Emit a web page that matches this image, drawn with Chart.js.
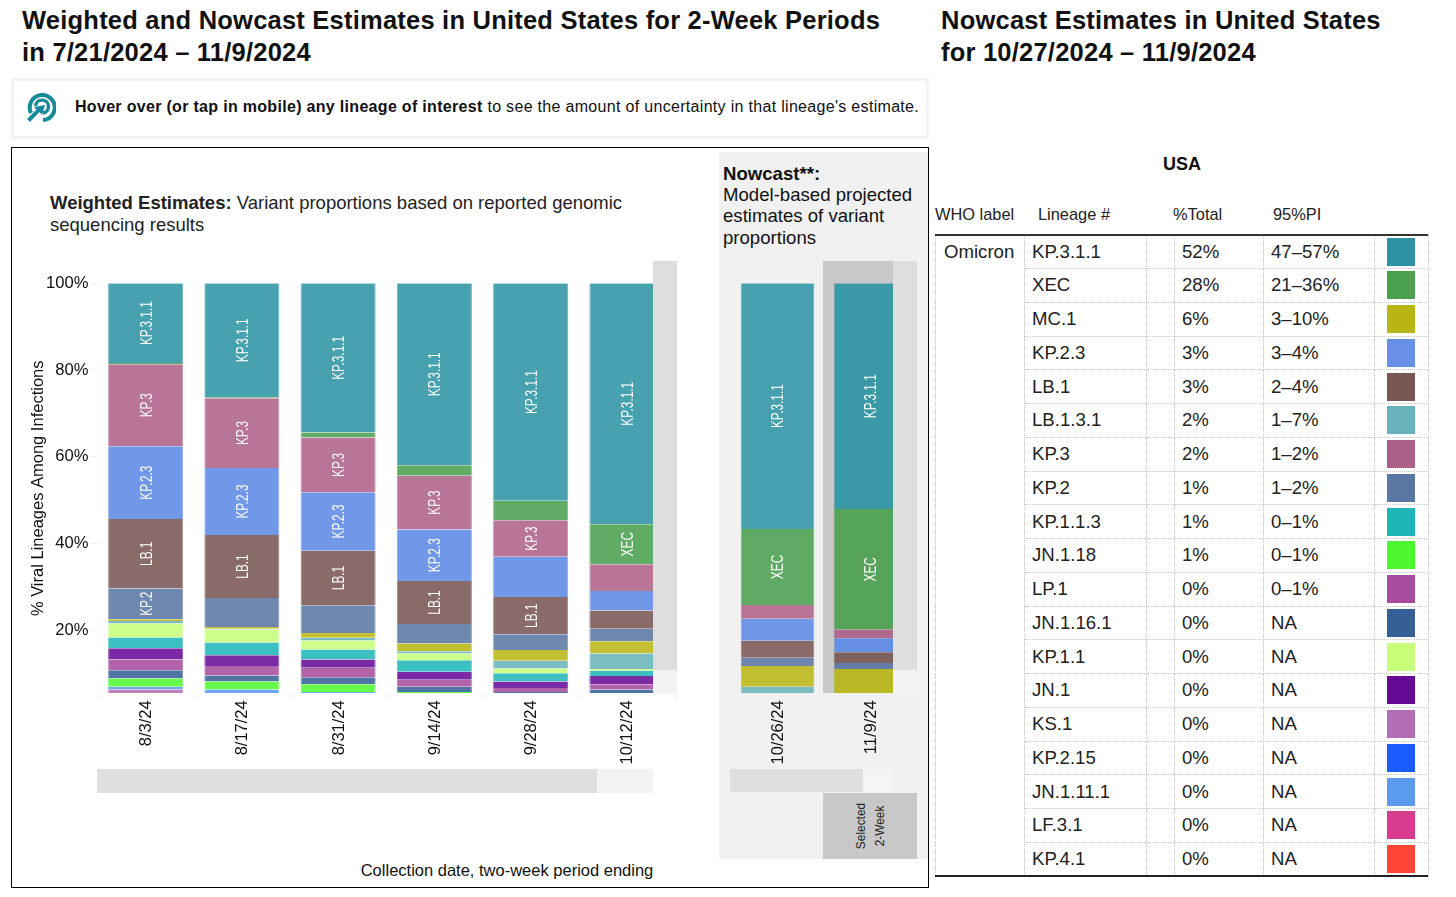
<!DOCTYPE html>
<html>
<head>
<meta charset="utf-8">
<title>Nowcast Estimates</title>
<script src="https://cdn.jsdelivr.net/npm/chart.js@4/dist/chart.umd.min.js"></script>
<style>
	html, body { margin: 0; padding: 0; background: #fff; }
	body { width: 1456px; height: 897px; position: relative; overflow: hidden; font-family: "Liberation Sans", Arial, sans-serif; color: #111; }
	.abs { position: absolute; }
	h1 { position: absolute; margin: 0; font-size: 25.5px; line-height: 32px; font-weight: bold; color: #111; white-space: nowrap; letter-spacing: 0.22px; }
	canvas { position: absolute; z-index: 1; }
	.over { z-index: 2; }
	#lineageTable { position: absolute; left: 935px; top: 234.3px; width: 493px; border-collapse: collapse; table-layout: fixed; font-size: 18.6px; color: #222; }
	#lineageTable td { height: 33.75px; padding: 0; border: 1px dotted #ccc; box-sizing: border-box; vertical-align: middle; }
	#lineageTable td.who { vertical-align: top; padding: 6px 0 0 8px; }
	#lineageTable td.name { padding-left: 7px; }
	#lineageTable td.total { padding-left: 7px; }
	#lineageTable td.pi { padding-left: 7px; }
	.swatch { width: 28px; height: 28px; margin-left: 12px; }
	.head { position: absolute; top: 205px; font-size: 16.4px; line-height: 18px; color: #222; }
</style>
</head>
<body>

<h1 style="left:22px; top:4px;">Weighted and Nowcast Estimates in United States for 2-Week Periods<br>in 7/21/2024 – 11/9/2024</h1>
<h1 style="left:941px; top:4px;">Nowcast Estimates in United States<br>for 10/27/2024 – 11/9/2024</h1>

<div class="abs" style="left:11px; top:78px; width:912px; height:55px; border:3px solid #f3f3f3;"></div>
<svg class="abs" style="left:26px; top:93px;" width="30" height="31" viewBox="0 0 30 31">
	<path d="M5 20 A12.5 12.5 0 1 1 17 27" fill="none" stroke="#178a99" stroke-width="4"/>
	<path d="M9.5 13 A6.5 6.5 0 1 1 17 20" fill="none" stroke="#178a99" stroke-width="3.4"/>
	<path d="M19 12 L16 22 L13.5 19 L4 29 L1 26 L10.5 16.5 L8 14 Z" fill="#178a99"/>
</svg>
<div class="abs" style="left:75px; top:98px; font-size:16px; line-height:18px; white-space:nowrap; letter-spacing:0.31px;"><b>Hover over (or tap in mobile) any lineage of interest</b> to see the amount of uncertainty in that lineage's estimate.</div>

<div class="abs" style="left:11px; top:147px; width:916px; height:739px; border:1.5px solid #000;"></div>
<div class="abs" style="left:719px; top:152px; width:208.5px; height:707px; background:#f1f1f1;"></div>
<div class="abs" style="left:823px; top:261px; width:70px; height:432px; background:#c8c8c8;"></div>

<div class="abs" style="left:50px; top:192px; font-size:18.5px; line-height:21.5px; color:#222; white-space:nowrap;"><b>Weighted Estimates:</b> Variant proportions based on reported genomic<br>sequencing results</div>
<div class="abs" style="left:723px; top:163px; font-size:18.6px; line-height:21.2px; color:#111; white-space:nowrap;"><b>Nowcast**:</b><br>Model-based projected<br>estimates of variant<br>proportions</div>

<canvas id="weightedChart" style="left:12px; top:255px;"></canvas>
<canvas id="nowcastChart" style="left:719px; top:255px;"></canvas>

<div class="abs over" style="left:653px; top:261px; width:24px; height:409px; background:#dedede;"></div>
<div class="abs over" style="left:653px; top:670px; width:24px; height:23.5px; background:#f3f3f3;"></div>
<div class="abs over" style="left:893px; top:261px; width:24px; height:409px; background:#dedede;"></div>
<div class="abs over" style="left:893px; top:670px; width:24px; height:23.5px; background:#f3f3f3;"></div>

<div class="abs" style="left:97px; top:769px; width:500px; height:24px; background:#dfdfdf;"></div>
<div class="abs" style="left:597px; top:769px; width:56px; height:24px; background:#f3f3f3;"></div>
<div class="abs" style="left:730px; top:769px; width:133px; height:23px; background:#dfdfdf;"></div>
<div class="abs" style="left:863px; top:769px; width:30px; height:23px; background:#f5f5f5;"></div>

<div class="abs" style="left:823px; top:793px; width:94px; height:66px; background:#c8c8c8;"></div>
<div class="abs" style="left:834px; top:808px; width:70px; height:36px; transform:rotate(-90deg) scaleX(0.88); text-align:center; font-size:13.5px; line-height:19px; color:#222;">Selected<br>2-Week</div>

<div class="abs" style="left:207px; top:861px; width:600px; text-align:center; font-size:16.5px; line-height:18px; color:#111;">Collection date, two-week period ending</div>

<div class="abs" style="left:1082px; top:154px; width:200px; text-align:center; font-size:18px; line-height:20px; font-weight:bold; color:#111;">USA</div>
<div class="head" style="left:935px;">WHO label</div>
<div class="head" style="left:1038px;">Lineage #</div>
<div class="head" style="left:1173px;">%Total</div>
<div class="head" style="left:1273px;">95%PI</div>
<table id="lineageTable"></table>
<div class="abs" style="left:935px; top:234px; width:493px; height:2px; background:#333; z-index:2;"></div>
<div class="abs" style="left:935px; top:875px; width:493px; height:2px; background:#222; z-index:2;"></div>

<script>
const weightedDates = ["8/3/24", "8/17/24", "8/31/24", "9/14/24", "9/28/24", "10/12/24"];
const nowcastDates = ["10/26/24", "11/9/24"];

// one value per column, the six weighted periods then the two nowcast periods
const kp311 = [18.4, 26.3, 34.4, 42.0, 50.2, 55.6, 56.7, 52.1];
const xec = [0.3, 0.2, 1.2, 2.4, 4.5, 9.2, 17.5, 27.8];
const kp3 = [18.9, 16.1, 12.6, 12.4, 8.4, 6.2, 3.2, 2.0];
const kp23 = [16.8, 15.5, 13.5, 11.9, 9.3, 4.5, 5.1, 3.2];
const lb1 = [16.0, 14.5, 12.6, 9.9, 8.6, 4.2, 3.9, 2.5];
const kp2 = [7.1, 6.7, 6.4, 4.5, 3.6, 2.9, 1.9, 1.4];
const mc1 = [0.4, 0.4, 1.1, 1.8, 2.5, 2.8, 4.8, 5.6];
const lb131 = [0.6, 0.2, 0.6, 0.5, 1.8, 3.6, 1.5, 0];
const kp11 = [3.2, 3.0, 2.1, 1.6, 1.1, 0.4, 0, 0];
const kp113 = [2.5, 2.9, 2.3, 2.6, 1.9, 1.2, 0, 0];
const jn1 = [2.6, 2.5, 1.9, 1.9, 1.5, 1.9, 0, 0];
const lp1 = [2.5, 2.2, 2.2, 1.6, 0.9, 1.2, 0, 0];
const jn1161 = [1.9, 1.4, 1.6, 1.2, 0.3, 0.9, 0, 0];
const jn118 = [1.9, 1.8, 1.8, 0.3, 0, 0, 0, 0];
const jn1111 = [0.6, 0.9, 0.3, 0, 0, 0, 0, 0];
const ks1 = [0.9, 0, 0, 0, 0, 0, 0, 0];
// the axis is cut at 5.4%, this part of each column is out of view
const belowAxis = [5.4, 5.4, 5.4, 5.4, 5.4, 5.4, 5.4, 5.4];
const yMin = 5.4;
const yTicks = [20, 40, 60, 80, 100];

const barSeries = [
	["KP.3.1.1", kp311, "45,147,163"],
	["XEC", xec, "74,160,78"],
	["KP.3", kp3, "173,97,136"],
	["KP.2.3", kp23, "92,136,230"],
	["LB.1", lb1, "119,86,84"],
	["KP.2", kp2, "90,118,163"],
	["MC.1", mc1, "185,181,20"],
	["LB.1.3.1", lb131, "104,179,187"],
	["KP.1.1", kp11, "200,255,122"],
	["KP.1.1.3", kp113, "31,181,184"],
	["JN.1", jn1, "102,10,150"],
	["LP.1", lp1, "167,76,157"],
	["JN.1.16.1", jn1161, "53,95,150"],
	["JN.1.18", jn118, "79,247,47"],
	["JN.1.11.1", jn1111, "91,155,238"],
	["KS.1", ks1, "179,110,182"],
];

// columns whose segment carries its name
const labelledColumns = {
	"KP.3.1.1": [0, 1, 2, 3, 4, 5, 6, 7],
	"XEC": [5, 6, 7],
	"KP.3": [0, 1, 2, 3, 4],
	"KP.2.3": [0, 1, 2, 3],
	"LB.1": [0, 1, 2, 3, 4],
	"KP.2": [0],
};

const tableNames = ["KP.3.1.1", "XEC", "MC.1", "KP.2.3", "LB.1", "LB.1.3.1", "KP.3", "KP.2", "KP.1.1.3", "JN.1.18", "LP.1", "JN.1.16.1", "KP.1.1", "JN.1", "KS.1", "KP.2.15", "JN.1.11.1", "LF.3.1", "KP.4.1"];
const tableTotals = ["52%", "28%", "6%", "3%", "3%", "2%", "2%", "1%", "1%", "1%", "0%", "0%", "0%", "0%", "0%", "0%", "0%", "0%", "0%"];
const tableIntervals = ["47–57%", "21–36%", "3–10%", "3–4%", "2–4%", "1–7%", "1–2%", "1–2%", "0–1%", "0–1%", "0–1%", "NA", "NA", "NA", "NA", "NA", "NA", "NA", "NA"];
const tableColors = ["#2d93a3", "#4aa04e", "#b9b514", "#6890e8", "#775654", "#68b3bb", "#ad6188", "#5a76a3", "#1fb5b8", "#4ff72f", "#a74c9d", "#355f96", "#c8ff7a", "#660a96", "#b36eb6", "#1a5cff", "#5b9bee", "#d83c91", "#ff4636"];

const fontFamily = '"Liberation Sans", Arial, sans-serif';

// white names turned along the bars, squeezed the way the picture has them
const segmentLabels = {
	id: "segmentLabels",
	afterDatasetsDraw(chart, args, opts) {
		const ctx = chart.ctx;
		chart.data.datasets.forEach((ds, d) => {
			const columns = labelledColumns[ds.label];
			if (!columns) return;
			chart.getDatasetMeta(d).data.forEach((bar, i) => {
				if (!columns.includes(i + opts.firstColumn)) return;
				ctx.save();
				ctx.translate(bar.x + 1.5, (bar.y + bar.base) / 2);
				ctx.rotate(-Math.PI / 2);
				ctx.scale(0.74, 1);
				ctx.fillStyle = "#fff";
				ctx.font = "16px " + fontFamily;
				ctx.textAlign = "center";
				ctx.textBaseline = "middle";
				ctx.fillText(ds.label, 0, 0);
				ctx.restore();
			});
		});
	},
};

function buildDatasets(first, count, barShare, selectedColumn) {
	const sets = [{
		label: "below axis",
		data: belowAxis.slice(first, first + count),
		backgroundColor: "rgba(0,0,0,0)",
		barPercentage: barShare,
		categoryPercentage: 1,
	}];
	for (let i = barSeries.length - 1; i >= 0; i--) {
		const s = barSeries[i];
		sets.push({
			label: s[0],
			data: s[1].slice(first, first + count),
			backgroundColor: (c) => "rgba(" + s[2] + "," + (c.dataIndex === selectedColumn ? 0.91 : 0.87) + ")",
			borderColor: "rgba(" + s[2] + ",0.7)",
			borderWidth: { left: 1, right: 1, top: 0, bottom: 0 },
			borderSkipped: false,
			barPercentage: barShare,
			categoryPercentage: 1,
		});
	}
	return sets;
}

function xAxis() {
	return {
		stacked: true,
		border: { display: false },
		grid: { drawOnChartArea: false, color: "#f1f1f1", tickLength: 6 },
		ticks: {
			minRotation: 90,
			maxRotation: 90,
			autoSkip: false,
			padding: 1,
			labelOffset: 1,
			color: "#111",
			font: { family: fontFamily, size: 16.5 },
		},
		afterFit: (scale) => { scale.height = 81.7; },
	};
}

function makeChart(id, width, labels, datasets, firstColumn, yAxis, padding) {
	const el = document.getElementById(id);
	el.width = width;
	el.height = 520;
	el.style.width = width + "px";
	el.style.height = "520px";
	return new Chart(el, {
		type: "bar",
		data: { labels: labels, datasets: datasets },
		options: {
			responsive: false,
			animation: false,
			layout: { padding: padding },
			scales: { x: xAxis(), y: yAxis },
			plugins: {
				legend: { display: false },
				tooltip: { enabled: false },
				segmentLabels: { firstColumn: firstColumn },
			},
		},
		plugins: [segmentLabels],
	});
}

const keepTicks = (scale) => {
	scale.ticks = yTicks.map((v) => ({ value: v }));
};

makeChart("weightedChart", 665, weightedDates, buildDatasets(0, 6, 0.78, -1), 0, {
	stacked: true,
	min: yMin,
	max: 100,
	border: { display: false },
	grid: { drawOnChartArea: false, color: "#eeeeee", tickLength: 7 },
	afterBuildTicks: keepTicks,
	afterFit: (scale) => { scale.width = 85.5; },
	title: {
		display: true,
		text: "% Viral Lineages Among Infections",
		color: "#111",
		font: { family: fontFamily, size: 16.5 },
		padding: { top: 17, bottom: 0 },
	},
	ticks: {
		padding: 2,
		color: "#111",
		font: { family: fontFamily, size: 16.6 },
		callback: (v) => v + "%",
	},
}, { top: 28.3, right: 2, bottom: 0, left: 0 });

makeChart("nowcastChart", 198, nowcastDates, buildDatasets(6, 2, 0.79, 1), 6, {
	stacked: true,
	display: false,
	min: yMin,
	max: 100,
}, { top: 28.3, right: 0, bottom: 0, left: 12 });

const table = document.getElementById("lineageTable");
const colWidths = [89, 122, 28, 89, 111, 54];
const colgroup = document.createElement("colgroup");
colWidths.forEach((w) => {
	const col = document.createElement("col");
	col.style.width = w + "px";
	colgroup.appendChild(col);
});
table.appendChild(colgroup);
tableNames.forEach((name, i) => {
	const row = table.insertRow();
	if (i === 0) {
		const who = row.insertCell();
		who.className = "who";
		who.rowSpan = tableNames.length;
		who.textContent = "Omicron";
	}
	const nameCell = row.insertCell();
	nameCell.className = "name";
	nameCell.textContent = name;
	row.insertCell();
	const totalCell = row.insertCell();
	totalCell.className = "total";
	totalCell.textContent = tableTotals[i];
	const piCell = row.insertCell();
	piCell.className = "pi";
	piCell.textContent = tableIntervals[i];
	const swatchCell = row.insertCell();
	const swatch = document.createElement("div");
	swatch.className = "swatch";
	swatch.style.background = tableColors[i];
	swatchCell.appendChild(swatch);
});
</script>
</body>
</html>
